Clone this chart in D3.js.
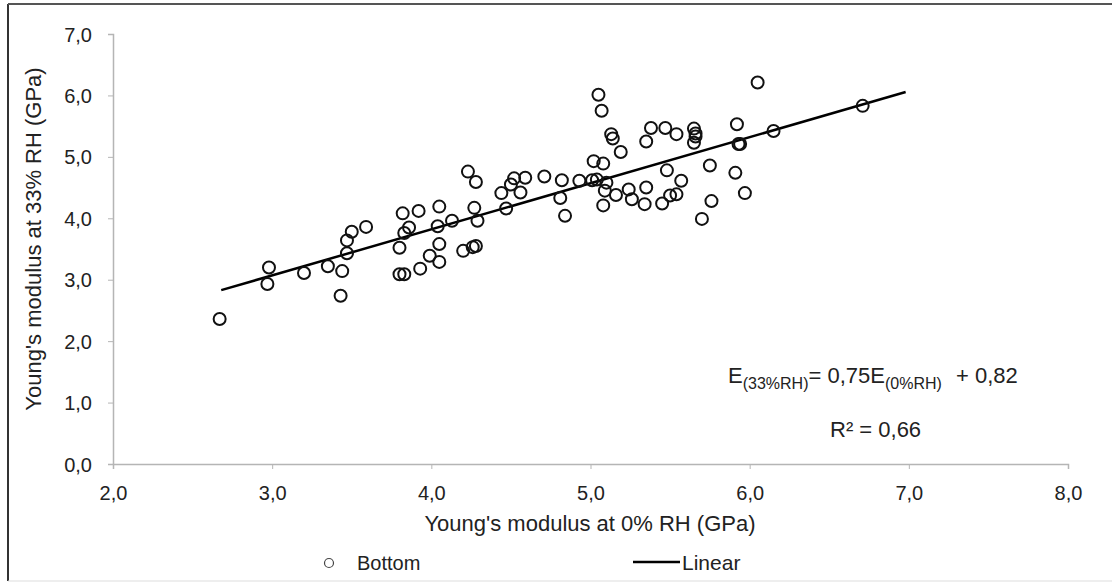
<!DOCTYPE html>
<html>
<head>
<meta charset="utf-8">
<script src="https://cdn.jsdelivr.net/npm/d3@7"></script>
<style>
  body { margin: 0; background: #fff; }
  svg { display: block; font-family: "Liberation Sans", Arial, sans-serif; }
</style>
</head>
<body>
<div id="chart"></div>
<script>
// Young's modulus at 0% RH (x) and at 33% RH (y), GPa.
var e0 = [2.67, 2.98, 2.97, 3.20, 3.35, 3.44, 3.43, 3.47, 3.47, 3.50, 3.59,
  3.82, 3.80, 3.80, 3.92, 4.05, 4.23, 4.28, 3.86, 3.83, 4.04, 4.13, 4.27, 4.29,
  4.05, 3.99, 4.05, 3.93, 3.83, 4.20, 4.26, 4.28, 4.44, 4.47, 4.52, 4.50, 4.56,
  4.59, 4.71, 4.82, 4.81, 4.84, 4.93, 5.02, 5.08, 5.01, 5.04, 5.10, 5.09, 5.08,
  5.16, 5.05, 5.07, 5.13, 5.14, 5.19, 5.24, 5.26, 5.34, 5.35, 5.35, 5.38, 5.47,
  5.54, 5.48, 5.57, 5.45, 5.50, 5.54, 5.65, 5.66, 5.66, 5.65, 5.75, 5.76, 5.70,
  5.92, 5.93, 5.94, 5.91, 5.97, 6.05, 6.15, 6.71];
var e33 = [2.36, 3.20, 2.93, 3.11, 3.22, 3.14, 2.74, 3.43, 3.64, 3.78, 3.86,
  4.08, 3.52, 3.09, 4.12, 4.19, 4.76, 4.59, 3.85, 3.76, 3.87, 3.96, 4.17, 3.96,
  3.58, 3.39, 3.29, 3.18, 3.09, 3.47, 3.53, 3.55, 4.41, 4.16, 4.65, 4.55, 4.42,
  4.66, 4.68, 4.62, 4.33, 4.04, 4.61, 4.93, 4.89, 4.62, 4.63, 4.58, 4.45, 4.21,
  4.38, 6.01, 5.75, 5.37, 5.30, 5.08, 4.47, 4.31, 4.23, 4.50, 5.25, 5.47, 5.47,
  5.37, 4.78, 4.61, 4.24, 4.37, 4.39, 5.46, 5.38, 5.33, 5.23, 4.86, 4.28, 3.99,
  5.53, 5.21, 5.21, 4.74, 4.41, 6.21, 5.42, 5.83];

// Linear fit: E33 = 0.75 * E0 + 0.82, drawn over the range of the data
var fitSlope = 0.75, fitIntercept = 0.82;
var fitRange = [2.68, 6.98];

var xTicks = [2, 3, 4, 5, 6, 7, 8];
var yTicks = [0, 1, 2, 3, 4, 5, 6, 7];

var W = 1112, H = 583;
var fmt = function (d) { return d3.format('.1f')(d).replace('.', ','); };

var svg = d3.select('#chart').append('svg')
    .attr('width', W)
    .attr('height', H);

// outer frame (left/top dark, bottom light)
svg.append('line').attr('x1', 8).attr('y1', 4).attr('x2', 8).attr('y2', 581)
    .attr('stroke', '#333').attr('stroke-width', 2);
svg.append('line').attr('x1', 8).attr('y1', 4).attr('x2', W).attr('y2', 4)
    .attr('stroke', '#555').attr('stroke-width', 2);
svg.append('line').attr('x1', 8).attr('y1', 581).attr('x2', W).attr('y2', 581)
    .attr('stroke', '#ddd').attr('stroke-width', 1);

var x = d3.scaleLinear().domain([2, 8]).range([113, 1068]);
var y = d3.scaleLinear().domain([0, 7]).range([464, 34]);

// axes
var xAxis = svg.append('g')
    .attr('transform', 'translate(0,' + y(0) + ')')
    .call(d3.axisBottom(x).tickValues(xTicks).tickFormat(fmt).tickSize(5).tickPadding(17));
var yAxis = svg.append('g')
    .attr('transform', 'translate(' + x(2) + ',0)')
    .call(d3.axisLeft(y).tickValues(yTicks).tickFormat(fmt).tickSize(5).tickPadding(16));
[xAxis, yAxis].forEach(function (a) {
    a.select('.domain').attr('stroke', '#b5b5b5').attr('stroke-width', 1.5);
    a.selectAll('.tick line').attr('stroke', '#b5b5b5');
    a.selectAll('.tick text').attr('fill', '#222').style('font-size', '20px')
        .style('font-family', '"Liberation Sans", Arial, sans-serif');
});
yAxis.selectAll('.tick text').attr('dy', '0.35em');

// axis titles
svg.append('text')
    .attr('x', 590).attr('y', 531)
    .attr('text-anchor', 'middle')
    .style('font-size', '22px').attr('fill', '#222')
    .text("Young's modulus at 0% RH (GPa)");
svg.append('text')
    .attr('transform', 'translate(41,239) rotate(-90)')
    .attr('text-anchor', 'middle')
    .style('font-size', '22px').attr('fill', '#222')
    .text("Young's modulus at 33% RH (GPa)");

// regression line
var line = d3.line()
    .x(function (d) { return x(d); })
    .y(function (d) { return y(fitSlope * d + fitIntercept); });
svg.append('path')
    .datum(fitRange)
    .attr('d', line)
    .attr('fill', 'none')
    .attr('stroke', '#000')
    .attr('stroke-width', 2.5);

// data points
svg.append('g').selectAll('circle')
    .data(e0)
    .enter()
    .append('circle')
    .attr('cx', function (d) { return x(d); })
    .attr('cy', function (d, i) { return y(e33[i]); })
    .attr('r', 6)
    .attr('fill', 'none')
    .attr('stroke', '#111')
    .attr('stroke-width', 2);

// equation + R²
var eq = svg.append('text')
    .attr('x', 728).attr('y', 383)
    .style('font-size', '22px').attr('fill', '#222');
eq.append('tspan').text('E');
eq.append('tspan').attr('dy', 6).style('font-size', '16px').text('(33%RH)');
eq.append('tspan').attr('dy', -6).text('= 0,75E');
eq.append('tspan').attr('dy', 6).style('font-size', '16px').text('(0%RH)');
eq.append('tspan').attr('dy', -6).attr('dx', 8).text(' + 0,82');
svg.append('text')
    .attr('x', 830).attr('y', 437)
    .style('font-size', '22px').attr('fill', '#222')
    .text('R² = 0,66');

// legend
svg.append('circle').attr('cx', 329).attr('cy', 563).attr('r', 4.5)
    .attr('fill', 'none').attr('stroke', '#444').attr('stroke-width', 1.2);
svg.append('text').attr('x', 357).attr('y', 570)
    .style('font-size', '20px').attr('fill', '#222').text('Bottom');
svg.append('line').attr('x1', 633).attr('y1', 562).attr('x2', 680).attr('y2', 562)
    .attr('stroke', '#000').attr('stroke-width', 2.5);
svg.append('text').attr('x', 682).attr('y', 570)
    .style('font-size', '21px').attr('fill', '#222').text('Linear');
</script>
</body>
</html>
